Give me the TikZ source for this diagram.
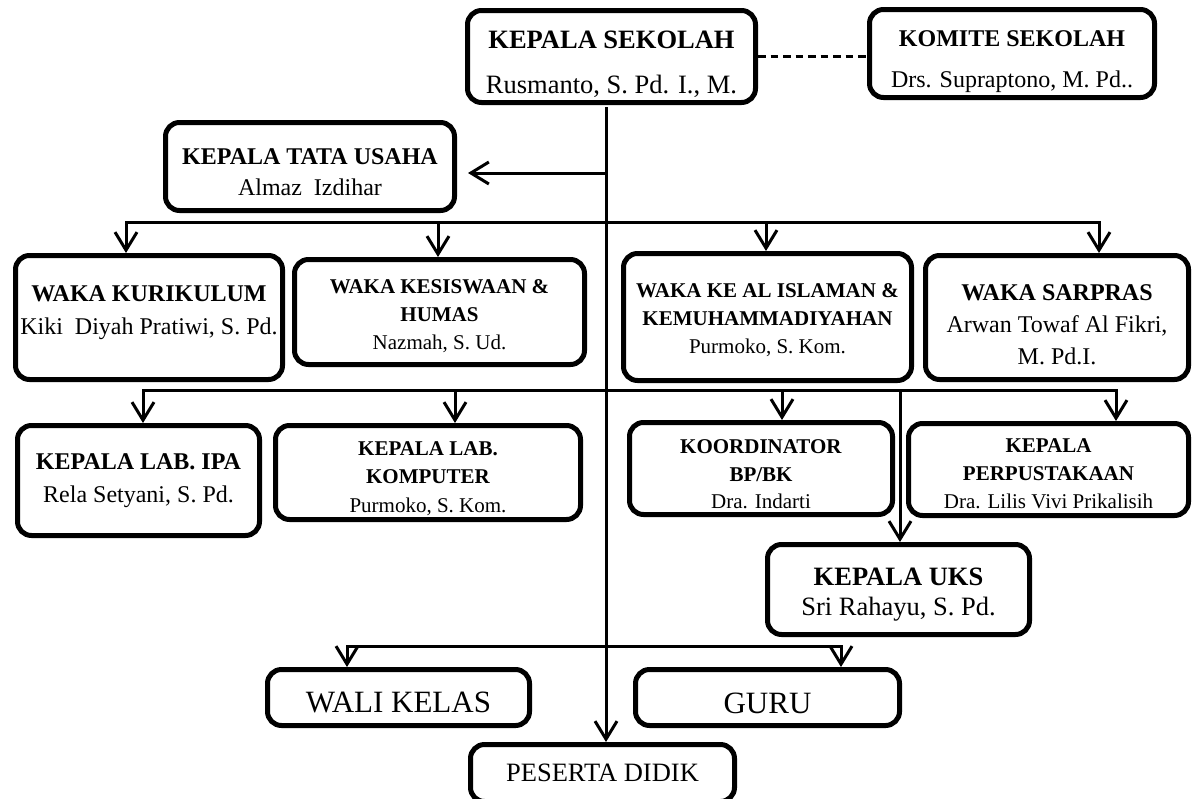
\documentclass[tikz,border=0pt]{standalone}
\usepackage{fontspec}
\setmainfont{Liberation Serif}
\usetikzlibrary{arrows.meta}

\begin{document}
\begin{tikzpicture}[
        x=1pt, y=-1pt,
        org_box/.style={draw, line width=5pt, rounded corners=14pt, inner sep=0pt, align=center},
        txt/.style 2 args={font=\fontsize{#1}{#2}\selectfont},
        base_at/.style={text height=#1pt, text depth=0pt},
        conn/.style={draw, line width=3pt},
        conn_arrow/.style={conn, -{Straight Barb[length=18pt, width=22pt]}},
        dash_line/.style={draw, line width=2.5pt, dash pattern=on 7.5pt off 5pt}
        ]
    \useasboundingbox (0,0) rectangle (1193,798);

    % top
    \node[org_box, txt={26.5}{45}, base_at=74.6, minimum width=288pt, minimum height=92pt] (ks) at (611.5,56.5)
        {\textbf{KEPALA SEKOLAH}\\Rusmanto, S. Pd. I., M.};
    \node[org_box, txt={24}{41}, base_at=68.8, minimum width=285pt, minimum height=88pt] (komite) at (1012,53.5)
        {\textbf{KOMITE SEKOLAH}\\Drs. Supraptono, M. Pd..};
    \node[org_box, txt={24}{31}, base_at=58.8, minimum width=289pt, minimum height=88pt] (ktu) at (310,166.5)
        {\textbf{KEPALA TATA USAHA}\\Almaz\ \ Izdihar};

    % waka
    \node[org_box, txt={24}{33.4}, base_at=34.2, minimum width=267pt, minimum height=124pt] (waka1) at (149,317.5)
        {\textbf{WAKA KURIKULUM}\\Kiki\ \ Diyah Pratiwi, S. Pd.};
    \node[org_box, txt={21}{28}, base_at=75.4, minimum width=290pt, minimum height=105pt] (waka2) at (439.5,312)
        {\textbf{WAKA KESISWAAN \&}\\\textbf{HUMAS}\\Nazmah, S. Ud.};
    \node[org_box, txt={21}{28.3}, base_at=73.4, minimum width=288pt, minimum height=127pt] (waka3) at (767.5,317)
        {\textbf{WAKA KE AL ISLAMAN \&}\\\textbf{KEMUHAMMADIYAHAN}\\Purmoko, S. Kom.};
    \node[org_box, txt={24}{32}, base_at=94.2, minimum width=263pt, minimum height=124pt] (waka4) at (1057,317.5)
        {\textbf{WAKA SARPRAS}\\Arwan Towaf Al Fikri,\\M. Pd.I.};

    % kepala unit
    \node[org_box, txt={24}{33.3}, base_at=44.8, minimum width=242pt, minimum height=110pt] (lab1) at (138.5,480.5)
        {\textbf{KEPALA LAB. IPA}\\Rela Setyani, S. Pd.};
    \node[org_box, txt={21}{28.3}, base_at=79, minimum width=305pt, minimum height=94pt] (lab2) at (428,472.5)
        {\textbf{KEPALA LAB.}\\\textbf{KOMPUTER}\\Purmoko, S. Kom.};
    \node[org_box, txt={21}{27.5}, base_at=80.4, minimum width=263pt, minimum height=92pt] (bk) at (761,468.5)
        {\textbf{KOORDINATOR}\\\textbf{BP/BK}\\Dra. Indarti};
    \node[org_box, txt={21}{28.3}, base_at=78.4, minimum width=280pt, minimum height=92pt] (pustaka) at (1048.5,469.5)
        {\textbf{KEPALA}\\\textbf{PERPUSTAKAAN}\\Dra. Lilis Vivi Prikalisih};
    \node[org_box, txt={26.5}{30}, base_at=52, minimum width=262pt, minimum height=90pt] (uks) at (898.5,589.5)
        {\textbf{KEPALA UKS}\\Sri Rahayu, S. Pd.};

    % bottom
    \node[org_box, txt={31}{31}, base_at=29, minimum width=262pt, minimum height=56pt] (wali) at (398.5,697.5) {WALI KELAS};
    \node[org_box, txt={31}{31}, base_at=31.6, minimum width=264pt, minimum height=56pt] (guru) at (767.5,697.5) {GURU};
    \node[org_box, txt={26.5}{30}, base_at=16.6, minimum width=264pt, minimum height=57pt] (peserta) at (602.5,773) {PESERTA DIDIK};

    % lines
    \draw[dash_line] (ks.east) -- (ks.east -| komite.west);
    \coordinate (spine) at (606,107);
    \draw[conn_arrow] (spine) -- (spine |- peserta.north);
    \coordinate (ktu_in) at ([xshift=11pt, yshift=-6.5pt]ktu.east);
    \draw[conn_arrow] (spine |- ktu_in) -- (ktu_in);

    \coordinate (d1) at (126,222);
    \coordinate (d2) at (438,222);
    \coordinate (d3) at (766,222);
    \coordinate (d4) at (1099,222);
    \draw[conn, line cap=rect] (d1) -- (d4);
    \foreach \d/\n in {d1/waka1, d2/waka2, d3/waka3, d4/waka4}
        \draw[conn_arrow] (\d) -- (\d |- \n.north);

    \coordinate (e1) at (143,390);
    \coordinate (e2) at (455,390);
    \coordinate (e3) at (782,390);
    \coordinate (e4) at (1116,390);
    \draw[conn, line cap=rect] (e1) -- (e4);
    \foreach \d/\n in {e1/lab1, e2/lab2, e3/bk, e4/pustaka}
        \draw[conn_arrow] (\d) -- (\d |- \n.north);
    \coordinate (e5) at (900,392);
    \draw[conn_arrow] (e5) -- (e5 |- uks.north);

    \coordinate (f1) at (347,646);
    \coordinate (f2) at (841,646);
    \draw[conn, line cap=rect] (f1) -- (f2);
    \foreach \d/\n in {f1/wali, f2/guru}
        \draw[conn_arrow] (\d) -- (\d |- \n.north);
\end{tikzpicture}
\end{document}
